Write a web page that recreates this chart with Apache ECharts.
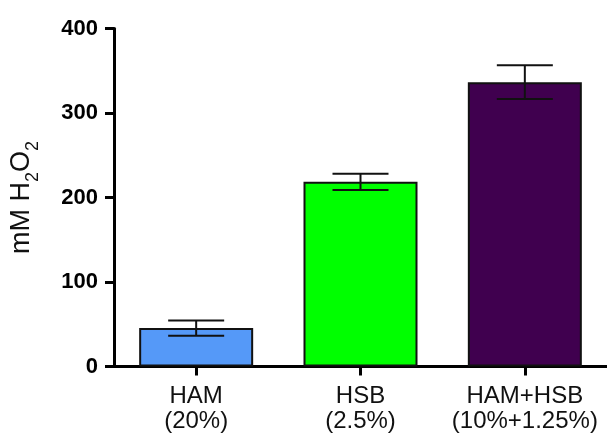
<!DOCTYPE html>
<html>
<head>
<meta charset="utf-8">
<script src="https://cdn.jsdelivr.net/npm/echarts@6/dist/echarts.min.js"></script>
<style>html,body{margin:0;padding:0;background:#fff}#c{width:607px;height:438px}</style>
</head>
<body>
<div id="c"></div>
<script>
const categories = ['HAM\n(20%)', 'HSB\n(2.5%)', 'HAM+HSB\n(10%+1.25%)'];
const means = [45.5, 218.5, 336.5];
const errors = [9, 9.5, 20];
const yTicks = [0, 100, 200, 300, 400];

const barColors = ['#5599f8', '#00ff00', '#40004f'];
const FONT = 'Arial, "Liberation Sans", sans-serif';

const chart = echarts.init(document.getElementById('c'), null, {renderer: 'canvas'});
chart.setOption({
  animation: false,
  backgroundColor: '#fff',
  grid: {left: 105, top: 28.5, width: 510, height: 338, containLabel: false},
  xAxis: {
    type: 'category',
    data: categories,
    axisLine: {lineStyle: {color: '#000', width: 3}},
    axisTick: {show: true, alignWithLabel: true, length: 9, lineStyle: {color: '#000', width: 3}},
    axisLabel: {interval: 0, hideOverlap: false, color: '#111', fontFamily: FONT, fontSize: 24, lineHeight: 25, margin: 17}
  },
  yAxis: {
    type: 'value',
    min: yTicks[0],
    max: yTicks[yTicks.length - 1],
    interval: 100,
    splitLine: {show: false},
    axisLine: {show: true, lineStyle: {color: '#000', width: 3}},
    axisTick: {show: true, length: 9, lineStyle: {color: '#000', width: 3}},
    axisLabel: {color: '#000', fontFamily: FONT, fontSize: 22, fontWeight: 'bold', margin: 16},
    name: '{a|mM H}{s|2}{a|O}{s|2}',
    nameLocation: 'middle',
    nameRotate: 90,
    nameGap: 72,
    nameTextStyle: {
      color: '#111',
      fontFamily: FONT,
      rich: {
        a: {fontSize: 27, fontFamily: FONT, color: '#111', lineHeight: 34, verticalAlign: 'top'},
        s: {fontSize: 18, fontFamily: FONT, color: '#111', lineHeight: 18, verticalAlign: 'bottom'}
      }
    }
  },
  series: [
    {
      type: 'bar',
      barWidth: 114,
      data: means.map((v, i) => ({value: v, itemStyle: {color: barColors[i]}})),
      itemStyle: {borderColor: '#111', borderWidth: 2},
      z: 2
    },
    {
      type: 'custom',
      z: 5,
      data: means.map((m, i) => [i, m - errors[i], m + errors[i]]),
      renderItem: function (params, api) {
        const i = api.value(0);
        const lo = api.coord([i, api.value(1)]);
        const hi = api.coord([i, api.value(2)]);
        const hw = 28;
        const st = {stroke: '#111', lineWidth: 2};
        return {
          type: 'group',
          children: [
            {type: 'line', shape: {x1: hi[0], y1: hi[1], x2: lo[0], y2: lo[1]}, style: st},
            {type: 'line', shape: {x1: hi[0] - hw, y1: hi[1], x2: hi[0] + hw, y2: hi[1]}, style: st},
            {type: 'line', shape: {x1: lo[0] - hw, y1: lo[1], x2: lo[0] + hw, y2: lo[1]}, style: st}
          ]
        };
      }
    }
  ]
});
</script>
</body>
</html>
